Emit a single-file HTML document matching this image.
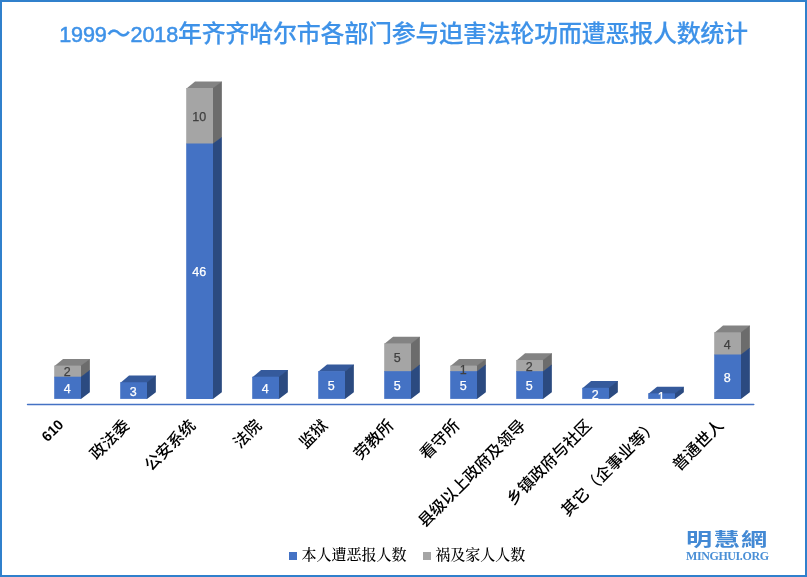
<!DOCTYPE html>
<html lang="zh"><head><meta charset="utf-8"><title>chart</title>
<style>
html,body{margin:0;padding:0;background:#fff}
body{width:807px;height:577px;position:relative;overflow:hidden;font-family:"Liberation Sans","Noto Sans CJK SC",sans-serif}
#frame{position:absolute;left:0;top:0;width:807px;height:577px;box-sizing:border-box;border:2px solid #3080CC}
#title{position:absolute;left:0;top:18.8px;width:807px;text-align:center;white-space:nowrap;color:#3E92E8;font-size:24px;line-height:30px;letter-spacing:-0.26px;font-weight:500;-webkit-text-stroke:0.15px #3E92E8}
#title .n{font-size:21.6px;letter-spacing:-0.11px;font-weight:normal;-webkit-text-stroke:0.5px #3E92E8}
svg{position:absolute;left:0;top:0}
svg text{font-family:"Liberation Sans",sans-serif;font-size:12.5px}
.cat{position:absolute;top:413px;white-space:nowrap;font-size:16px;line-height:20px;font-weight:500;color:#000;transform-origin:100% 50%;transform:rotate(-45deg)}
.cat.num{font-weight:bold;font-size:14.3px;top:411.5px}
#legend{position:absolute;top:545px;left:0;font-family:"Liberation Serif","Noto Serif CJK SC",serif;font-size:15px;line-height:20px;color:#000;font-weight:500}
#legend span{position:absolute;white-space:nowrap;top:0}
#legend i{position:absolute;width:7.8px;height:7.8px;top:7px}
#wm1{position:absolute;left:686.3px;top:526px;font-size:18.7px;line-height:28px;color:#4389D4;white-space:nowrap;transform-origin:0 0;transform:scaleX(1.4);font-weight:700;letter-spacing:1px}
#wm2{position:absolute;left:686px;top:549px;font-family:"Liberation Serif",serif;font-weight:bold;font-size:12px;line-height:14px;color:#4A8FD6;white-space:nowrap;letter-spacing:-0.4px}
</style></head><body>
<svg width="807" height="577" viewBox="0 0 807 577">
<polygon points="54.2,366.3 63.05,358.9 89.85,358.9 89.85,359.6 81,366.3" fill="#838383"/>
<polygon points="80.3,365.6 81,365.6 89.85,358.9 89.85,370.7 81,377.4 80.3,377.4" fill="#6C6C6C"/>
<polygon points="80.3,376.7 81,376.7 89.85,370 89.85,392.2 81,398.9 80.3,398.9" fill="#2B4A80"/>
<polygon points="54.2,365.6 81,365.6 81,377.4 54.2,377.4" fill="#A5A5A5"/>
<polygon points="54.2,376.7 81,376.7 81,398.9 54.2,398.9" fill="#4472C4"/>
<polygon points="120.2,382.95 129.05,375.55 155.85,375.55 155.85,376.25 147,382.95" fill="#355A9C"/>
<polygon points="146.3,382.25 147,382.25 155.85,375.55 155.85,392.2 147,398.9 146.3,398.9" fill="#2B4A80"/>
<polygon points="120.2,382.25 147,382.25 147,398.9 120.2,398.9" fill="#4472C4"/>
<polygon points="186.2,88.8 195.05,81.4 221.85,81.4 221.85,82.1 213,88.8" fill="#838383"/>
<polygon points="212.3,88.1 213,88.1 221.85,81.4 221.85,137.6 213,144.3 212.3,144.3" fill="#6C6C6C"/>
<polygon points="212.3,143.6 213,143.6 221.85,136.9 221.85,392.2 213,398.9 212.3,398.9" fill="#2B4A80"/>
<polygon points="186.2,88.1 213,88.1 213,144.3 186.2,144.3" fill="#A5A5A5"/>
<polygon points="186.2,143.6 213,143.6 213,398.9 186.2,398.9" fill="#4472C4"/>
<polygon points="252.2,377.4 261.05,370 287.85,370 287.85,370.7 279,377.4" fill="#355A9C"/>
<polygon points="278.3,376.7 279,376.7 287.85,370 287.85,392.2 279,398.9 278.3,398.9" fill="#2B4A80"/>
<polygon points="252.2,376.7 279,376.7 279,398.9 252.2,398.9" fill="#4472C4"/>
<polygon points="318.2,371.85 327.05,364.45 353.85,364.45 353.85,365.15 345,371.85" fill="#355A9C"/>
<polygon points="344.3,371.15 345,371.15 353.85,364.45 353.85,392.2 345,398.9 344.3,398.9" fill="#2B4A80"/>
<polygon points="318.2,371.15 345,371.15 345,398.9 318.2,398.9" fill="#4472C4"/>
<polygon points="384.2,344.1 393.05,336.7 419.85,336.7 419.85,337.4 411,344.1" fill="#838383"/>
<polygon points="410.3,343.4 411,343.4 419.85,336.7 419.85,365.15 411,371.85 410.3,371.85" fill="#6C6C6C"/>
<polygon points="410.3,371.15 411,371.15 419.85,364.45 419.85,392.2 411,398.9 410.3,398.9" fill="#2B4A80"/>
<polygon points="384.2,343.4 411,343.4 411,371.85 384.2,371.85" fill="#A5A5A5"/>
<polygon points="384.2,371.15 411,371.15 411,398.9 384.2,398.9" fill="#4472C4"/>
<polygon points="450.2,366.3 459.05,358.9 485.85,358.9 485.85,359.6 477,366.3" fill="#838383"/>
<polygon points="476.3,365.6 477,365.6 485.85,358.9 485.85,365.15 477,371.85 476.3,371.85" fill="#6C6C6C"/>
<polygon points="476.3,371.15 477,371.15 485.85,364.45 485.85,392.2 477,398.9 476.3,398.9" fill="#2B4A80"/>
<polygon points="450.2,365.6 477,365.6 477,371.85 450.2,371.85" fill="#A5A5A5"/>
<polygon points="450.2,371.15 477,371.15 477,398.9 450.2,398.9" fill="#4472C4"/>
<polygon points="516.2,360.75 525.05,353.35 551.85,353.35 551.85,354.05 543,360.75" fill="#838383"/>
<polygon points="542.3,360.05 543,360.05 551.85,353.35 551.85,365.15 543,371.85 542.3,371.85" fill="#6C6C6C"/>
<polygon points="542.3,371.15 543,371.15 551.85,364.45 551.85,392.2 543,398.9 542.3,398.9" fill="#2B4A80"/>
<polygon points="516.2,360.05 543,360.05 543,371.85 516.2,371.85" fill="#A5A5A5"/>
<polygon points="516.2,371.15 543,371.15 543,398.9 516.2,398.9" fill="#4472C4"/>
<polygon points="582.2,388.5 591.05,381.1 617.85,381.1 617.85,381.8 609,388.5" fill="#355A9C"/>
<polygon points="608.3,387.8 609,387.8 617.85,381.1 617.85,392.2 609,398.9 608.3,398.9" fill="#2B4A80"/>
<polygon points="582.2,387.8 609,387.8 609,398.9 582.2,398.9" fill="#4472C4"/>
<polygon points="648.2,394.05 657.05,386.65 683.85,386.65 683.85,387.35 675,394.05" fill="#355A9C"/>
<polygon points="674.3,393.35 675,393.35 683.85,386.65 683.85,392.2 675,398.9 674.3,398.9" fill="#2B4A80"/>
<polygon points="648.2,393.35 675,393.35 675,398.9 648.2,398.9" fill="#4472C4"/>
<polygon points="714.2,333 723.05,325.6 749.85,325.6 749.85,326.3 741,333" fill="#838383"/>
<polygon points="740.3,332.3 741,332.3 749.85,325.6 749.85,348.5 741,355.2 740.3,355.2" fill="#6C6C6C"/>
<polygon points="740.3,354.5 741,354.5 749.85,347.8 749.85,392.2 741,398.9 740.3,398.9" fill="#2B4A80"/>
<polygon points="714.2,332.3 741,332.3 741,355.2 714.2,355.2" fill="#A5A5A5"/>
<polygon points="714.2,354.5 741,354.5 741,398.9 714.2,398.9" fill="#4472C4"/>
<line x1="27.5" y1="404.45" x2="753.8" y2="404.45" stroke="#4472C4" stroke-width="1.4" stroke-linecap="round"/>
<text x="67.2" y="376.35" fill="#404040" stroke="#404040" stroke-width="0.25" text-anchor="middle">2</text>
<text x="67.2" y="393" fill="#fff" stroke="#fff" stroke-width="0.25" text-anchor="middle">4</text>
<text x="133.2" y="395.77" fill="#fff" stroke="#fff" stroke-width="0.25" text-anchor="middle">3</text>
<text x="199.2" y="121.05" fill="#404040" stroke="#404040" stroke-width="0.25" text-anchor="middle">10</text>
<text x="199.2" y="276.45" fill="#fff" stroke="#fff" stroke-width="0.25" text-anchor="middle">46</text>
<text x="265.2" y="393" fill="#fff" stroke="#fff" stroke-width="0.25" text-anchor="middle">4</text>
<text x="331.2" y="390.22" fill="#fff" stroke="#fff" stroke-width="0.25" text-anchor="middle">5</text>
<text x="397.2" y="362.47" fill="#404040" stroke="#404040" stroke-width="0.25" text-anchor="middle">5</text>
<text x="397.2" y="390.22" fill="#fff" stroke="#fff" stroke-width="0.25" text-anchor="middle">5</text>
<text x="463.2" y="373.57" fill="#404040" stroke="#404040" stroke-width="0.25" text-anchor="middle">1</text>
<text x="463.2" y="390.22" fill="#fff" stroke="#fff" stroke-width="0.25" text-anchor="middle">5</text>
<text x="529.2" y="370.8" fill="#404040" stroke="#404040" stroke-width="0.25" text-anchor="middle">2</text>
<text x="529.2" y="390.22" fill="#fff" stroke="#fff" stroke-width="0.25" text-anchor="middle">5</text>
<text x="595.2" y="398.55" fill="#fff" stroke="#fff" stroke-width="0.25" text-anchor="middle">2</text>
<text x="661.2" y="401.32" fill="#fff" stroke="#fff" stroke-width="0.25" text-anchor="middle">1</text>
<text x="727.2" y="348.6" fill="#404040" stroke="#404040" stroke-width="0.25" text-anchor="middle">4</text>
<text x="727.2" y="381.9" fill="#fff" stroke="#fff" stroke-width="0.25" text-anchor="middle">8</text>
</svg>
<div id="title"><span class="n">1999</span>～<span class="n">2018</span>年齐齐哈尔市各部门参与迫害法轮功而遭恶报人数统计</div>
<div class="cat num" style="right:745.98px">610</div>
<div class="cat" style="right:679.98px">政法委</div>
<div class="cat" style="right:613.98px">公安系统</div>
<div class="cat" style="right:547.98px">法院</div>
<div class="cat" style="right:481.98px">监狱</div>
<div class="cat" style="right:415.98px">劳教所</div>
<div class="cat" style="right:349.98px">看守所</div>
<div class="cat" style="right:283.98px">县级以上政府及领导</div>
<div class="cat" style="right:217.98px">乡镇政府与社区</div>
<div class="cat" style="right:151.98px">其它（企事业等）</div>
<div class="cat" style="right:85.98px">普通世人</div>
<div id="legend"><i style="left:289.1px;background:#4472C4"></i><span style="left:301.5px">本人遭恶报人数</span><i style="left:423.2px;background:#A5A5A5"></i><span style="left:435.3px">祸及家人人数</span></div>
<div id="wm1">明慧網</div>
<div id="wm2">MINGHUI.ORG</div>
<div id="frame"></div>
</body></html>
